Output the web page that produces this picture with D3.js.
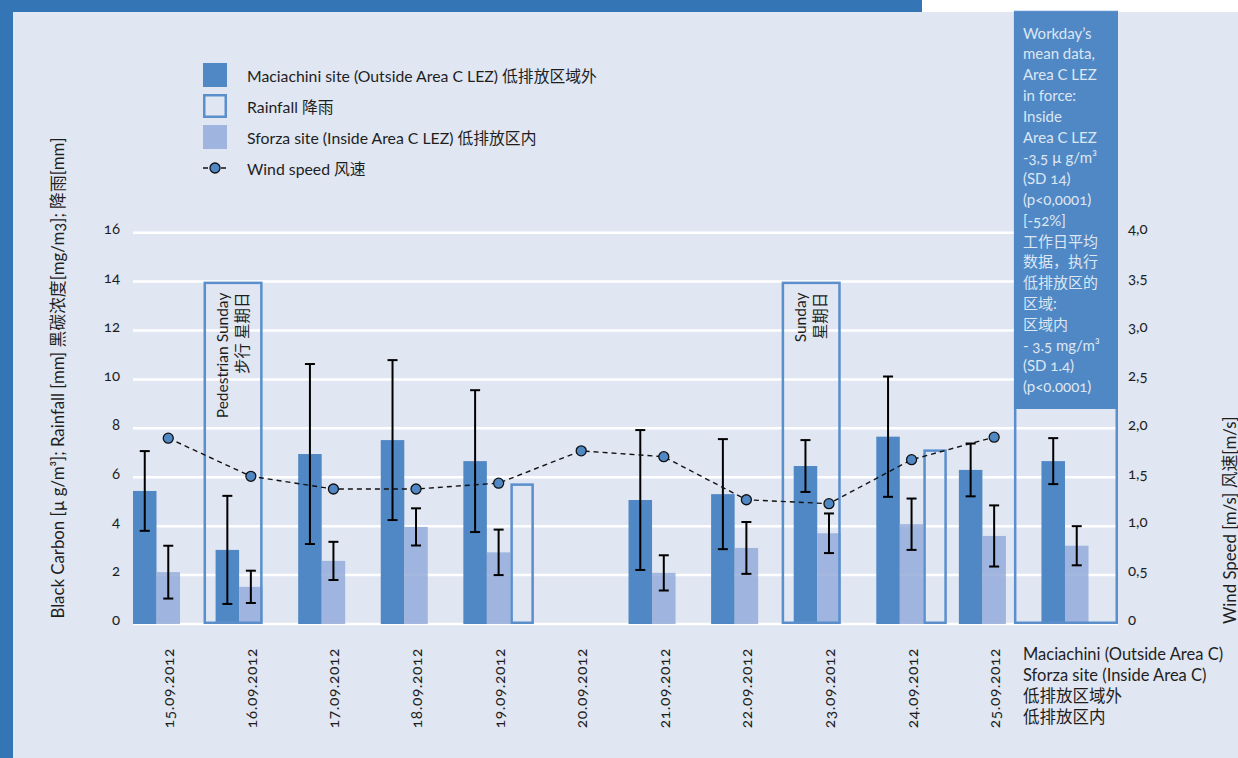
<!DOCTYPE html>
<html>
<head>
<meta charset="utf-8">
<script src="https://cdn.jsdelivr.net/npm/d3@7"></script>
<style>
  html, body { margin: 0; padding: 0; background: #ffffff; }
  svg { display: block; font-family: Lato, "Noto Sans CJK SC", sans-serif; }
  text { font-variant-numeric: oldstyle-nums; font-feature-settings: "onum" 1; }
</style>
</head>
<body>
<svg id="chart" width="1238" height="758"></svg>
<script>
// ---- data ----
const dates = ["15.09.2012", "16.09.2012", "17.09.2012", "18.09.2012", "19.09.2012", "20.09.2012",
               "21.09.2012", "22.09.2012", "23.09.2012", "24.09.2012", "25.09.2012"];
const categories = [...dates, "mean"];

// Black carbon, µg/m³ (mean of each day, last entry = workday mean)
const maciachini   = [5.44, 3.03, 6.95, 7.52, 6.66, null, 5.07, 5.31, 6.46, 7.66, 6.30, 6.66];
const maciachiniSD = [1.63, 2.21, 3.68, 3.27, 2.90, null, 2.86, 2.25, 1.06, 2.46, 1.08, 0.94];
const sforza       = [2.12, 1.52, 2.58, 3.97, 2.93, null, 2.09, 3.11, 3.71, 4.08, 3.60, 3.20];
const sforzaSD     = [1.08, 0.66, 0.78, 0.76, 0.93, null, 0.72, 1.06, 0.81, 1.05, 1.25, 0.80];

// Rainfall, mm
const rainfall = [0, 0, 0, 0, 5.75, 0, 0, 0, 0, 7.14, 0, 0];

// Wind speed, m/s
const windSpeed = [1.90, 1.51, 1.38, 1.38, 1.44, 1.77, 1.71, 1.27, 1.23, 1.68, 1.91];

// Sundays marked on the chart
const sundays = ["16.09.2012", "23.09.2012"];
const sundayLabels = [["Pedestrian Sunday", "步行 星期日"], ["Sunday", "星期日"]];
const sundayExtent = 14;

const leftTicks = [0, 2, 4, 6, 8, 10, 12, 14, 16];
const rightTicks = [0, 0.5, 1, 1.5, 2, 2.5, 3, 3.5, 4];

const legendItems = [
  { key: "m", label: "Maciachini site (Outside Area C LEZ) 低排放区域外" },
  { key: "r", label: "Rainfall 降雨" },
  { key: "s", label: "Sforza site (Inside Area C LEZ) 低排放区内" },
  { key: "w", label: "Wind speed 风速" }
];

const meanNote = ["Workday’s", "mean data,", "Area C LEZ", "in force:", "Inside", "Area C LEZ",
  "-3,5  µ g/m³", "(SD 14)", "(p<0,0001)", "[-52%]", "工作日平均", "数据，执行", "低排放区的",
  "区域:", "区域内", "- 3.5 mg/m³", "(SD 1.4)", "(p<0.0001)"];

const meanCaption = ["Maciachini (Outside Area C)", "Sforza site (Inside Area C)", "低排放区域外", "低排放区内"];

// ---- styling ----
const C = {
  band: "#3375b5",
  bg: "#e0e6f2",
  mac: "#5088c5",
  sfo: "#8fa8d8",
  rain: "#5a8fcc",
  noteFill: "#5088c5",
  noteText: "#dde6f3",
  ink: "#1e1e1e"
};

const svg = d3.select("#chart");

// page frame
svg.append("rect").attr("x", 0).attr("y", 0).attr("width", 1238).attr("height", 758).attr("fill", "#ffffff");
svg.append("rect").attr("x", 0).attr("y", 0).attr("width", 922).attr("height", 12).attr("fill", C.band);
svg.append("rect").attr("x", 13).attr("y", 12).attr("width", 1225).attr("height", 746).attr("fill", C.bg);
svg.append("rect").attr("x", 0).attr("y", 0).attr("width", 13).attr("height", 758).attr("fill", C.band);

// ---- scales ----
const x = d3.scaleBand().domain(categories).range([133, 1112]).paddingInner(0.146).paddingOuter(0).align(0);
const sub = d3.scaleBand().domain(["m", "s", "r"]).range([0, x.bandwidth()]);
const y = d3.scaleLinear().domain([0, 16]).range([624, 232.7]);
const y2 = d3.scaleLinear().domain([0, 4]).range([624, 232.7]);

const step = x.step();
const gap = step - x.bandwidth();
const meanLeft = x("mean") - step / 3;
const meanRight = x("mean") + x.bandwidth() + 6;

// ---- grid ----
const grid = svg.append("g");
grid.selectAll("line").data(leftTicks).join("line")
  .attr("x1", 133).attr("x2", meanRight)
  .attr("y1", d => y(d)).attr("y2", d => y(d))
  .attr("stroke", "#ffffff").attr("stroke-width", 2.5);

// ---- axes (text only, no domain lines) ----
const leftAxis = svg.append("g").attr("transform", "translate(120,0)")
  .call(d3.axisLeft(y).tickValues(leftTicks).tickSize(0).tickPadding(0).tickFormat(d3.format("d")));
leftAxis.select(".domain").remove();
leftAxis.selectAll("text").attr("font-family", "Lato, sans-serif").attr("font-size", 15)
  .attr("fill", C.ink).attr("dy", "0.05em").attr("x", 0);

const commaFmt = d => d === 0 ? "0" : d3.format(".1f")(d).replace(".", ",");
const rightAxis = svg.append("g").attr("transform", "translate(1128,0)")
  .call(d3.axisRight(y2).tickValues(rightTicks).tickSize(0).tickPadding(0).tickFormat(commaFmt));
rightAxis.select(".domain").remove();
rightAxis.selectAll("text").attr("font-family", "Lato, sans-serif").attr("font-size", 15)
  .attr("fill", C.ink).attr("dy", "0.05em").attr("x", 0);

// ---- bars ----
const rows = categories.map((c, i) => ({
  c, m: maciachini[i], mSD: maciachiniSD[i], s: sforza[i], sSD: sforzaSD[i], r: rainfall[i]
}));

svg.append("g").selectAll("rect").data(rows.filter(d => d.m != null)).join("rect")
  .attr("x", d => x(d.c) + sub("m")).attr("width", sub.bandwidth())
  .attr("y", d => y(d.m)).attr("height", d => y(0) - y(d.m))
  .attr("fill", C.mac);

svg.append("g").selectAll("rect").data(rows.filter(d => d.s != null)).join("rect")
  .attr("x", d => x(d.c) + sub("s")).attr("width", sub.bandwidth())
  .attr("y", d => y(d.s)).attr("height", d => y(0) - y(d.s))
  .attr("fill", C.sfo).attr("fill-opacity", 0.8);

svg.append("g").selectAll("rect").data(rows.filter(d => d.r > 0)).join("rect")
  .attr("x", d => x(d.c) + sub("r") + 1.25).attr("width", sub.bandwidth() - 2.5)
  .attr("y", d => y(d.r) + 1.25).attr("height", d => y(0) - y(d.r) - 2.5)
  .attr("fill", "none").attr("stroke", C.rain).attr("stroke-width", 2.5);

// ---- Sunday frames ----
const sun = svg.append("g");
sundays.forEach((d, i) => {
  const left = x(d) - gap, right = x(d) + 2 * sub.bandwidth();
  sun.append("rect")
    .attr("x", left + 1.25).attr("width", right - left - 2.5)
    .attr("y", y(sundayExtent) + 1.25).attr("height", y(0) - y(sundayExtent) - 2.5)
    .attr("fill", "none").attr("stroke", C.rain).attr("stroke-width", 2.5);
  const cx = (left + right) / 2;
  const offs = [-11, 9];
  sundayLabels[i].forEach((t, j) => {
    sun.append("text")
      .attr("transform", `translate(${cx + offs[j]},${y(sundayExtent) + 11}) rotate(-90)`)
      .attr("text-anchor", "end").attr("dominant-baseline", "central")
      .attr("font-size", 15.5).attr("fill", C.ink).text(t);
  });
});

// ---- workday mean panel ----
const panel = svg.append("g");
panel.append("rect")
  .attr("x", meanLeft + 1.25).attr("width", meanRight - meanLeft - 2.5)
  .attr("y", 12).attr("height", y(0) - 12 - 1.25)
  .attr("fill", "none").attr("stroke", C.rain).attr("stroke-width", 2.5);
panel.append("rect")
  .attr("x", meanLeft).attr("width", meanRight - meanLeft)
  .attr("y", 12).attr("height", 409 - 12)
  .attr("fill", C.noteFill);
panel.selectAll("text.note").data(meanNote).join("text").attr("class", "note")
  .attr("x", meanLeft + 9).attr("y", (d, i) => 38.5 + i * 20.8)
  .attr("font-size", 15).attr("fill", C.noteText).text(d => d);

// ---- error bars ----
const errs = [];
rows.forEach(d => {
  if (d.m != null) errs.push({ cx: x(d.c) + sub("m") + sub.bandwidth() / 2, v: d.m, e: d.mSD });
  if (d.s != null) errs.push({ cx: x(d.c) + sub("s") + sub.bandwidth() / 2, v: d.s, e: d.sSD });
});
const eg = svg.append("g").attr("stroke", "#000").attr("stroke-width", 2);
eg.selectAll("line.v").data(errs).join("line").attr("class", "v")
  .attr("x1", d => d.cx).attr("x2", d => d.cx)
  .attr("y1", d => y(d.v + d.e)).attr("y2", d => y(d.v - d.e));
eg.selectAll("line.t").data(errs).join("line").attr("class", "t")
  .attr("x1", d => d.cx - 5).attr("x2", d => d.cx + 5)
  .attr("y1", d => y(d.v + d.e)).attr("y2", d => y(d.v + d.e));
eg.selectAll("line.b").data(errs).join("line").attr("class", "b")
  .attr("x1", d => d.cx - 5).attr("x2", d => d.cx + 5)
  .attr("y1", d => y(d.v - d.e)).attr("y2", d => y(d.v - d.e));

// ---- wind speed ----
const windPts = dates.map((d, i) => ({ cx: x(d) + x.bandwidth() / 2, w: windSpeed[i] }));
svg.append("path").datum(windPts)
  .attr("d", d3.line().x(d => d.cx).y(d => y2(d.w)))
  .attr("fill", "none").attr("stroke", "#111").attr("stroke-width", 1.4).attr("stroke-dasharray", "5,4");
svg.append("g").selectAll("circle").data(windPts).join("circle")
  .attr("cx", d => d.cx).attr("cy", d => y2(d.w)).attr("r", 5)
  .attr("fill", C.mac).attr("stroke", "#111").attr("stroke-width", 1.3);

// ---- date labels ----
svg.append("g").selectAll("text").data(dates).join("text")
  .attr("transform", d => `translate(${x(d) + x.bandwidth() / 2},648) rotate(-90)`)
  .attr("text-anchor", "end").attr("dominant-baseline", "central")
  .attr("font-size", 15.5).attr("letter-spacing", 0.6).attr("fill", C.ink).text(d => d);

svg.append("g").selectAll("text").data(meanCaption).join("text")
  .attr("x", 1023).attr("y", (d, i) => 659.5 + i * 21.3)
  .attr("font-size", 16.5).attr("fill", C.ink).text(d => d);

// ---- axis titles ----
svg.append("text")
  .attr("transform", "translate(57,378) rotate(-90)")
  .attr("text-anchor", "middle").attr("dominant-baseline", "central")
  .attr("font-size", 16.8).attr("fill", C.ink)
  .text("Black Carbon [µ g/m³]; Rainfall [mm] 黑碳浓度[mg/m3]; 降雨[mm]");
svg.append("text")
  .attr("transform", "translate(1229,624) rotate(-90)")
  .attr("text-anchor", "start").attr("dominant-baseline", "central")
  .attr("font-size", 16.8).attr("fill", C.ink)
  .text("Wind Speed [m/s]  风速[m/s]");

// ---- legend ----
const lg = svg.append("g").attr("transform", "translate(203,75)");
legendItems.forEach((item, i) => {
  const g = lg.append("g").attr("transform", `translate(0,${i * 31})`);
  if (item.key === "m") {
    g.append("rect").attr("x", 0).attr("y", -12).attr("width", 24).attr("height", 24).attr("fill", C.mac);
  } else if (item.key === "s") {
    g.append("rect").attr("x", 0).attr("y", -12).attr("width", 24).attr("height", 24).attr("fill", C.sfo).attr("fill-opacity", 0.8);
  } else if (item.key === "r") {
    g.append("rect").attr("x", 1.25).attr("y", -10.75).attr("width", 21.5).attr("height", 21.5)
      .attr("fill", "none").attr("stroke", C.rain).attr("stroke-width", 2.5);
  } else {
    g.append("line").attr("x1", 0).attr("x2", 24).attr("y1", 0).attr("y2", 0)
      .attr("stroke", "#111").attr("stroke-width", 1.4).attr("stroke-dasharray", "5,4");
    g.append("circle").attr("cx", 12).attr("cy", 0).attr("r", 5)
      .attr("fill", C.mac).attr("stroke", "#111").attr("stroke-width", 1.3);
  }
  g.append("text").attr("x", 44).attr("y", 0).attr("dominant-baseline", "central")
    .attr("font-size", 15.8).attr("fill", C.ink).text(item.label);
});
</script>
</body>
</html>
